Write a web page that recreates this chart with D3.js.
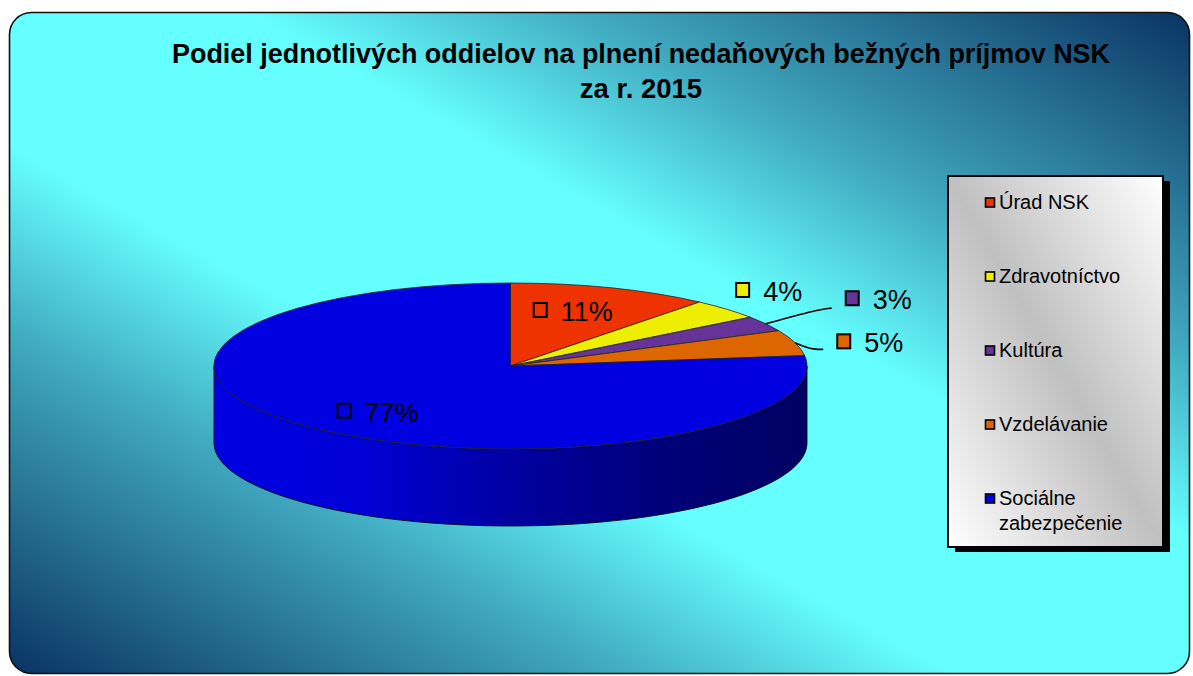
<!DOCTYPE html>
<html><head><meta charset="utf-8">
<script src="https://cdn.jsdelivr.net/npm/d3@7"></script>
<style>html,body{margin:0;padding:0;background:#fff;}svg{display:block;font-family:"Liberation Sans",Arial,sans-serif;}</style>
</head><body>
<svg id="c" width="1193" height="676"></svg>
<script>
// ---- data ----
const categories = ["Úrad NSK", "Zdravotníctvo", "Kultúra", "Vzdelávanie", "Sociálne zabezpečenie"];
const values = [11, 4, 3, 5, 77];
const valueLabels = ["11%", "4%", "3%", "5%", "77%"];
const colors = ["#ee3300", "#eeee00", "#663399", "#dd6600", "#0000e0"];
const titleLines = ["Podiel jednotlivých oddielov na plnení nedaňových bežných príjmov NSK", "za r. 2015"];

// ---- layout ----
const W = 1193, H = 676;
const cx = 510.5, cy = 366, rx = 296.5, ry = 83, depth = 77;
// label placement: radius factor, dx, dy (to marker left / vertical center), leader line
const labelLayout = [
  {k: 0.5, dx: -27, dy: -16.5, leader: false},
  {k: 1.0, dx: 9.5, dy: -18.7, leader: false},
  {k: 1.0, dx: 80, dy: -25, leader: true},
  {k: 1.0, dx: 42, dy: -1, leader: true},
  {k: 0.5, dx: -75, dy: 14, leader: false}
];

const svg = d3.select("#c");
const defs = svg.append("defs");

const bg = defs.append("linearGradient").attr("id", "bg")
  .attr("x1", 0).attr("y1", 1).attr("x2", 1).attr("y2", 0);
[[0, "#0a3363"], [0.25, "#3fa6bd"], [0.4, "#66ffff"], [0.6, "#66ffff"], [0.75, "#3fa6bd"], [1, "#0a3363"]]
  .forEach(([o, c]) => bg.append("stop").attr("offset", o).attr("stop-color", c));

const lg = defs.append("linearGradient").attr("id", "lg")
  .attr("x1", 0).attr("y1", 1).attr("x2", 1).attr("y2", 0);
[[0, "#ffffff"], [0.5, "#c0c0c0"], [1, "#ffffff"]]
  .forEach(([o, c]) => lg.append("stop").attr("offset", o).attr("stop-color", c));

const sg = defs.append("linearGradient").attr("id", "side")
  .attr("gradientUnits", "userSpaceOnUse")
  .attr("x1", cx - rx).attr("y1", 0).attr("x2", cx + rx).attr("y2", 0);
[[0, "#0000e2"], [0.25, "#0000d6"], [0.5, "#0000a2"], [0.75, "#00007a"], [1, "#000062"]]
  .forEach(([o, c]) => sg.append("stop").attr("offset", o).attr("stop-color", c));

// frame
svg.append("rect").attr("x", 9.5).attr("y", 12.5).attr("width", 1180).attr("height", 661)
  .attr("rx", 22).attr("fill", "url(#bg)").attr("stroke", "#111").attr("stroke-width", 1.6);

// title
const title = svg.append("g").attr("font-weight", "bold").attr("font-size", 27.5).attr("fill", "#000")
  .attr("text-anchor", "middle");
title.append("text").attr("x", 641).attr("y", 63).attr("textLength", 938)
  .attr("lengthAdjust", "spacingAndGlyphs").text(titleLines[0]);
title.append("text").attr("x", 641).attr("y", 98).text(titleLines[1]);

// pie
const pie = d3.pie().sort(null).startAngle(0).endAngle(2 * Math.PI);
const arcsData = pie(values);
const pt = (a, k = 1) => [cx + k * rx * Math.sin(a), cy - k * ry * Math.cos(a)];

// sides (visible between 90° and 270°)
const sideG = svg.append("g");
arcsData.forEach((d, i) => {
  const a0 = Math.max(d.startAngle, Math.PI / 2), a1 = Math.min(d.endAngle, 3 * Math.PI / 2);
  if (a1 <= a0) return;
  const n = 80;
  const top = d3.range(n + 1).map(j => pt(a0 + (a1 - a0) * j / n));
  const bot = top.slice().reverse().map(([x, y]) => [x, y + depth]);
  sideG.append("path").attr("d", d3.line()(top.concat(bot)) + "Z")
    .attr("fill", i === 4 ? "url(#side)" : d3.color(colors[i]).darker(1.2))
    .attr("stroke", "#111").attr("stroke-width", 0.9).attr("stroke-linejoin", "round");
});

// tops
const arc = d3.arc().innerRadius(0).outerRadius(rx);
svg.append("g").attr("transform", `translate(${cx},${cy}) scale(1,${ry / rx})`)
  .selectAll("path").data(arcsData).join("path")
  .attr("d", arc).attr("fill", (d, i) => colors[i])
  .attr("stroke", "#222").attr("stroke-width", 0.8).attr("vector-effect", "non-scaling-stroke")
  .attr("stroke-linejoin", "round");

// data labels
const lab = svg.append("g");
arcsData.forEach((d, i) => {
  const L = labelLayout[i];
  const mid = (d.startAngle + d.endAngle) / 2;
  const [px, py] = pt(mid, L.k);
  const mx = px + L.dx, my = py + L.dy;
  if (L.leader) {
    const ex = mx - 14, ey = my + (i === 2 ? 9.5 : 7.5);
    const pts = i === 2 ? [[px, py], [ex - 8, ey], [ex, ey]]
                        : [[px, py], [px + 12, py + 5], [px + 20, ey], [ex, ey]];
    lab.append("path").attr("d", d3.line().curve(d3.curveBasis)(pts))
      .attr("fill", "none").attr("stroke", "#000").attr("stroke-width", 1.6);
  }
  lab.append("rect").attr("x", mx).attr("y", my - 7.5).attr("width", 13).attr("height", 14)
    .attr("fill", colors[i]).attr("stroke", "#000").attr("stroke-width", 2);
  lab.append("text").attr("x", mx + 27).attr("y", my + 10.5)
    .attr("font-size", 27).attr("fill", "#000").text(valueLabels[i]);
});

// legend
svg.append("rect").attr("x", 955).attr("y", 181).attr("width", 215).attr("height", 371).attr("fill", "#000");
svg.append("rect").attr("x", 948).attr("y", 176).attr("width", 215).attr("height", 371)
  .attr("fill", "url(#lg)").attr("stroke", "#000").attr("stroke-width", 2);
const ly = d3.scaleLinear().domain([0, categories.length - 1]).range([209, 505]);
const leg = svg.append("g").attr("font-size", 20).attr("fill", "#000");
categories.forEach((c, i) => {
  const y = ly(i);
  leg.append("rect").attr("x", 985.5).attr("y", y - 11).attr("width", 9).attr("height", 9)
    .attr("fill", colors[i]).attr("stroke", "#000").attr("stroke-width", 1.6);
  const lines = c.length > 14 ? c.split(" ") : [c];
  lines.forEach((t, j) => leg.append("text").attr("x", 999).attr("y", y + j * 25).text(t));
});
</script>
</body></html>
